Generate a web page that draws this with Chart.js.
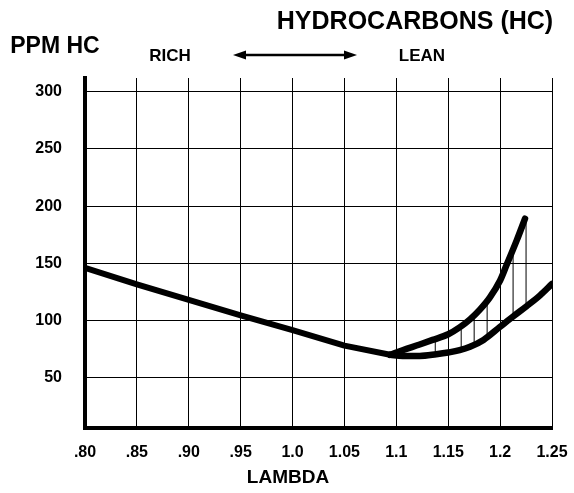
<!DOCTYPE html>
<html><head><meta charset="utf-8">
<script src="https://cdn.jsdelivr.net/npm/chart.js@4.4.0/dist/chart.umd.min.js"></script>
<style>html,body{margin:0;padding:0;background:#fff;}canvas{display:block;}</style>
</head><body>
<canvas id="c" width="574" height="493"></canvas>
<script>
// ---- data ----
const richLambda = [0.80, 0.85, 0.90, 0.95, 1.00, 1.05, 1.094];
const richHC     = [146, 131.5, 118, 104.5, 91.5, 78, 70];

const upperLambda = [1.094, 1.106, 1.1225, 1.135, 1.15, 1.161, 1.171, 1.1805, 1.19, 1.2, 1.206, 1.216, 1.224];
const upperHC     = [70, 74, 79, 83, 88, 94, 101, 109.5, 120, 135, 148, 170, 189];

const lowerLambda = [1.094, 1.106, 1.1225, 1.1385, 1.15, 1.161, 1.171, 1.184, 1.2, 1.2125, 1.2255, 1.2385, 1.25];
const lowerHC     = [70, 69, 69, 70.5, 72, 74, 77, 83, 94.5, 103.5, 112.5, 122, 132];

const hatchLambda = [1.1375, 1.1625, 1.175, 1.1875, 1.2125, 1.225];
const hatchLow    = [71, 74, 79, 87, 105, 115];
const hatchHigh   = [82, 92, 102, 115, 158, 188];

const xTickValues = [0.80, 0.85, 0.90, 0.95, 1.00, 1.05, 1.10, 1.15, 1.20, 1.25];
const xTickLabels = [".80", ".85", ".90", ".95", "1.0", "1.05", "1.1", "1.15", "1.2", "1.25"];
const yTickValues = [50, 100, 150, 200, 250, 300];
const yTickLabels = ["50", "100", "150", "200", "250", "300"];

const FONT = '"Liberation Sans", Arial, Helvetica, sans-serif';

function pts(xs, ys) { return xs.map((x, i) => ({x: x, y: ys[i]})); }
const hatchData = [];
hatchLambda.forEach((x, i) => {
  hatchData.push({x: x, y: hatchLow[i]});
  hatchData.push({x: x, y: hatchHigh[i]});
  hatchData.push({x: x, y: null});
});

const annotations = {
  id: 'annotations',
  afterDraw(chart) {
    const ctx = chart.ctx;
    ctx.save();
    ctx.fillStyle = '#000';
    ctx.strokeStyle = '#000';
    ctx.textAlign = 'center';
    ctx.textBaseline = 'middle';
    ctx.font = 'bold 25px ' + FONT;
    ctx.fillText('HYDROCARBONS (HC)', 415, 22);
    ctx.font = 'bold 23px ' + FONT;
    ctx.fillText('PPM HC', 55, 47);
    ctx.font = 'bold 17px ' + FONT;
    ctx.fillText('RICH', 170, 56);
    ctx.fillText('LEAN', 422, 56);
    ctx.font = 'bold 19px ' + FONT;
    ctx.fillText('LAMBDA', 288, 478);
    // double arrow
    const y = 55, x1 = 233, x2 = 357;
    ctx.lineWidth = 2.5;
    ctx.beginPath(); ctx.moveTo(x1 + 8, y); ctx.lineTo(x2 - 8, y); ctx.stroke();
    ctx.beginPath(); ctx.moveTo(x1, y); ctx.lineTo(x1 + 13, y - 4.5); ctx.lineTo(x1 + 13, y + 4.5); ctx.closePath(); ctx.fill();
    ctx.beginPath(); ctx.moveTo(x2, y); ctx.lineTo(x2 - 13, y - 4.5); ctx.lineTo(x2 - 13, y + 4.5); ctx.closePath(); ctx.fill();
    ctx.restore();
  }
};

new Chart(document.getElementById('c'), {
  type: 'line',
  data: {
    datasets: [
      {data: pts(richLambda, richHC), borderColor: '#000', borderWidth: 6, pointRadius: 0, tension: 0, borderCapStyle: 'round', borderJoinStyle: 'round', order: 1},
      {data: pts(upperLambda, upperHC), borderColor: '#000', borderWidth: 6.5, pointRadius: 0, cubicInterpolationMode: 'monotone', borderCapStyle: 'round', borderJoinStyle: 'round', order: 1},
      {data: pts(lowerLambda, lowerHC), borderColor: '#000', borderWidth: 6.5, pointRadius: 0, cubicInterpolationMode: 'monotone', borderCapStyle: 'round', borderJoinStyle: 'round', order: 1},
      {data: hatchData, borderColor: '#000', borderWidth: 1, pointRadius: 0, tension: 0, spanGaps: false, order: 2}
    ]
  },
  options: {
    responsive: false,
    animation: false,
    devicePixelRatio: 1,
    layout: {padding: {top: 78, right: 22, bottom: 0, left: 0}},
    plugins: {legend: {display: false}, tooltip: {enabled: false}, title: {display: false}},
    scales: {
      x: {
        type: 'linear', min: 0.80, max: 1.25,
        afterBuildTicks: s => { s.ticks = xTickValues.map(v => ({value: v})); },
        afterFit: s => { s.height = 65; s.paddingLeft = 0; s.paddingRight = 0; },
        ticks: {autoSkip: false, maxRotation: 0, padding: 15, color: '#000',
                font: {family: FONT, size: 16, weight: 'bold'},
                callback: (v, i) => xTickLabels[i]},
        grid: {color: '#000', lineWidth: 1, drawTicks: false},
        border: {display: true, color: '#000', width: 4}
      },
      y: {
        type: 'linear', min: 6, max: 312,
        afterBuildTicks: s => { s.ticks = yTickValues.map(v => ({value: v})); },
        afterFit: s => { s.width = 85; s.paddingTop = 0; s.paddingBottom = 0; },
        ticks: {padding: 23, color: '#000',
                font: {family: FONT, size: 16, weight: 'bold'},
                callback: (v) => yTickLabels[yTickValues.indexOf(v)]},
        grid: {color: '#000', lineWidth: 1, drawTicks: false},
        border: {display: true, color: '#000', width: 4}
      }
    }
  },
  plugins: [annotations]
});
</script>
</body></html>
